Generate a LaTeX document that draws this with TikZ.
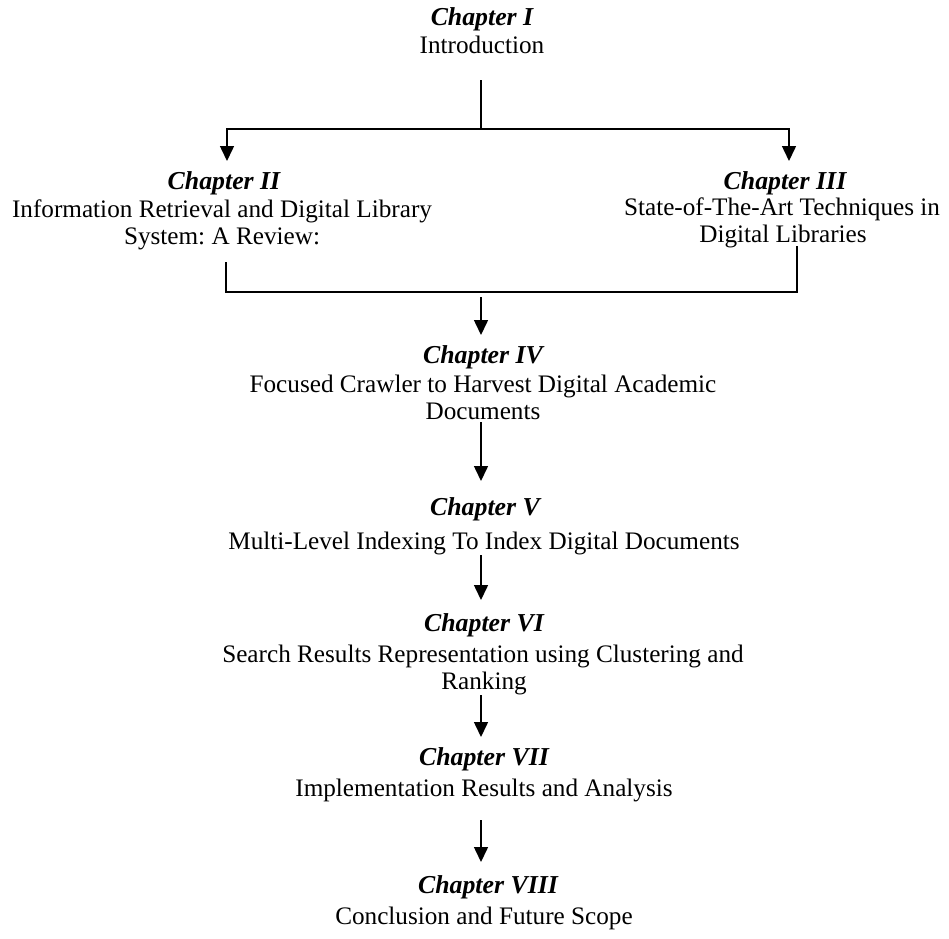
\documentclass[tikz,border=0pt]{standalone}
\usepackage{fontspec}
\setmainfont{Liberation Serif}
\usetikzlibrary{arrows.meta}
\frenchspacing

\tikzset{
  head/.style={inner sep=0pt, anchor=base, font=\fontsize{25.8pt}{30pt}\selectfont\bfseries\itshape},
  body/.style={inner sep=0pt, anchor=base, font=\fontsize{25.2pt}{28pt}\selectfont},
  link/.style={line width=1.5pt},
  arr/.style={line width=1.5pt, -{Triangle[width=14pt,length=15pt]}}
}

\begin{document}
\begin{tikzpicture}[x=1pt, y=-1pt]
\useasboundingbox (0,0) rectangle (949,938);

% chapter titles
\node[head] (c1h) at (482,25)  {Chapter I};
\node[body] (c1a) at (482,53)  {Introduction};

\node[head] (c2h) at (224,189) {Chapter II};
\node[body] (c2a) at (222,217) {Information Retrieval and Digital Library};
\node[body] (c2b) at (222,244) {System: A Review:};

\node[head] (c3h) at (785,189) {Chapter III};
\node[body] (c3a) at (782,215) {State-of-The-Art Techniques in};
\node[body] (c3b) at (783,242) {Digital Libraries};

\node[head] (c4h) at (483,363) {Chapter IV};
\node[body] (c4a) at (483,392) {Focused Crawler to Harvest Digital Academic};
\node[body] (c4b) at (483,419) {Documents};

\node[head] (c5h) at (485,515) {Chapter V};
\node[body] (c5a) at (484,549) {Multi-Level Indexing To Index Digital Documents};

\node[head] (c6h) at (484,631) {Chapter VI};
\node[body] (c6a) at (483,662) {Search Results Representation using Clustering and};
\node[body] (c6b) at (484,689) {Ranking};

\node[head] (c7h) at (484,765) {Chapter VII};
\node[body] (c7a) at (484,796) {Implementation Results and Analysis};

\node[head] (c8h) at (488,893) {Chapter VIII};
\node[body] (c8a) at (484,924) {Conclusion and Future Scope};

% junctions on the two horizontal bars
\coordinate (j1) at (481,129);
\coordinate (j2) at (481,292);

% split from Chapter I to Chapters II and III
\draw[link] ([xshift=-1pt,yshift=-27pt]c1a.base) -- (j1);
\draw[arr] (j1) -| ([xshift=3pt,yshift=28pt]c2h.base);
\draw[arr] (j1) -| ([xshift=4pt,yshift=28pt]c3h.base);

% merge of Chapters II and III
\draw[link] ([xshift=4pt,yshift=-18pt]c2b.base) |- (j2) -| ([xshift=14pt,yshift=-4pt]c3b.base);
\draw[arr] ([yshift=-5pt]j2) -- ([xshift=-2pt,yshift=28pt]c4h.base);

% chain of the remaining chapters
\draw[arr] ([xshift=-2pt,yshift=-3pt]c4b.base) -- ([xshift=-4pt,yshift=34pt]c5h.base);
\draw[arr] ([xshift=-3pt,yshift=-6pt]c5a.base) -- ([xshift=-3pt,yshift=31pt]c6h.base);
\draw[arr] ([xshift=-3pt,yshift=-6pt]c6b.base) -- ([xshift=-3pt,yshift=28pt]c7h.base);
\draw[arr] ([xshift=-3pt,yshift=-24pt]c7a.base) -- ([xshift=-7pt,yshift=31pt]c8h.base);
\end{tikzpicture}
\end{document}
